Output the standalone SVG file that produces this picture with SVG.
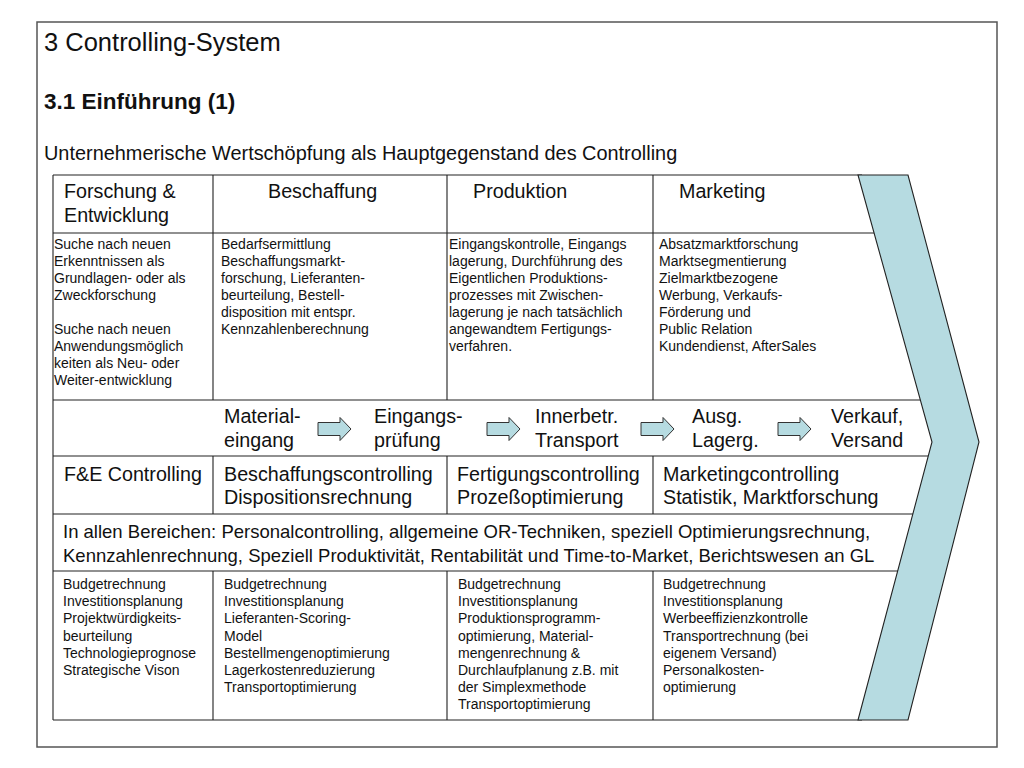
<svg xmlns="http://www.w3.org/2000/svg" width="1024" height="768" viewBox="0 0 1024 768">
<defs>
<style>
text{font-family:"Liberation Sans",Arial,sans-serif;fill:#111}
.t1{font-size:25.5px}
.t2{font-size:22.5px;font-weight:bold}
.t3{font-size:19.9px}
.big{font-size:19.7px}
.mid{font-size:18.5px}
.sm{font-size:14px}
.grid{stroke:#222;stroke-width:1.1;fill:none}
.frame{stroke:#555;stroke-width:1.5;fill:#fff}
.blk{fill:#b6dbe1;stroke:#333;stroke-width:1}
.chev{fill:#b6dbe1;stroke:#222;stroke-width:1.1}
</style>
<path id="arr" d="M0,-6.5 H22 V-11.5 L33,0 L22,11.5 V6.5 H0 Z"/>
</defs>
<rect class="frame" x="37" y="22" width="960" height="725"/>
<g id="titles">
<text class="t1" x="44" y="51">3 Controlling-System</text>
<text class="t2" x="44" y="109">3.1 Einführung (1)</text>
<text class="t3" x="44" y="160">Unternehmerische Wertschöpfung als Hauptgegenstand des Controlling</text>
</g>
<g id="table-grid">
<line class="grid" x1="53" y1="175" x2="862" y2="175"/>
<line class="grid" x1="53" y1="233" x2="878" y2="233"/>
<line class="grid" x1="53" y1="400" x2="924" y2="400"/>
<line class="grid" x1="53" y1="456" x2="932" y2="456"/>
<line class="grid" x1="53" y1="514" x2="916" y2="514"/>
<line class="grid" x1="53" y1="571" x2="901" y2="571" stroke-width="1.6"/>
<line class="grid" x1="53" y1="720" x2="862" y2="720"/>
<line class="grid" x1="53" y1="175" x2="53" y2="720"/>
<path class="grid" d="M213,175 V400 M213,456 V514 M213,571 V720 M447,175 V400 M447,456 V514 M447,571 V720 M653,175 V400 M653,456 V514 M653,571 V720"/>
</g>
<g id="chevron">
<polygon class="chev" points="858,175 908,175 979,442 908,720 858,720 932,442"/>
</g>
<g id="hdr-fe"><text class="big" x="64" y="198">Forschung &amp;<tspan x="64" dy="24">Entwicklung</tspan></text></g>
<g id="hdr-beschaffung"><text class="big" x="268" y="198">Beschaffung</text></g>
<g id="hdr-produktion"><text class="big" x="473" y="198">Produktion</text></g>
<g id="hdr-marketing"><text class="big" x="679" y="198">Marketing</text></g>
<g id="desc-fe"><text class="sm" x="54" y="249">Suche nach neuen<tspan x="54" dy="17">Erkenntnissen als</tspan><tspan x="54" dy="17">Grundlagen- oder als</tspan><tspan x="54" dy="17">Zweckforschung</tspan><tspan x="54" dy="34">Suche nach neuen</tspan><tspan x="54" dy="17">Anwendungsmöglich</tspan><tspan x="54" dy="17">keiten als Neu- oder</tspan><tspan x="54" dy="17">Weiter-entwicklung</tspan></text></g>
<g id="desc-beschaffung"><text class="sm" x="221" y="249">Bedarfsermittlung<tspan x="221" dy="17">Beschaffungsmarkt-</tspan><tspan x="221" dy="17">forschung, Lieferanten-</tspan><tspan x="221" dy="17">beurteilung, Bestell-</tspan><tspan x="221" dy="17">disposition mit entspr.</tspan><tspan x="221" dy="17">Kennzahlenberechnung</tspan></text></g>
<g id="desc-produktion"><text class="sm" x="449" y="249">Eingangskontrolle, Eingangs<tspan x="449" dy="17">lagerung, Durchführung des</tspan><tspan x="449" dy="17">Eigentlichen Produktions-</tspan><tspan x="449" dy="17">prozesses mit Zwischen-</tspan><tspan x="449" dy="17">lagerung je nach tatsächlich</tspan><tspan x="449" dy="17">angewandtem Fertigungs-</tspan><tspan x="449" dy="17">verfahren.</tspan></text></g>
<g id="desc-marketing"><text class="sm" x="659" y="249">Absatzmarktforschung<tspan x="659" dy="17">Marktsegmentierung</tspan><tspan x="659" dy="17">Zielmarktbezogene</tspan><tspan x="659" dy="17">Werbung, Verkaufs-</tspan><tspan x="659" dy="17">Förderung und</tspan><tspan x="659" dy="17">Public Relation</tspan><tspan x="659" dy="17">Kundendienst, AfterSales</tspan></text></g>
<g id="flow-materialeingang"><text class="big" x="224" y="423">Material-<tspan x="224" dy="24">eingang</tspan></text></g>
<g id="flow-eingangspruefung"><text class="big" x="374" y="423">Eingangs-<tspan x="374" dy="24">prüfung</tspan></text></g>
<g id="flow-transport"><text class="big" x="535" y="423">Innerbetr.<tspan x="535" dy="24">Transport</tspan></text></g>
<g id="flow-lager"><text class="big" x="692" y="423">Ausg.<tspan x="692" dy="24">Lagerg.</tspan></text></g>
<g id="flow-verkauf"><text class="big" x="831" y="423">Verkauf,<tspan x="831" dy="24">Versand</tspan></text></g>
<g id="connectors">
<use href="#arr" class="blk" x="318" y="429"/>
<use href="#arr" class="blk" x="487" y="429"/>
<use href="#arr" class="blk" x="641" y="429"/>
<use href="#arr" class="blk" x="778" y="429"/>
</g>
<g id="ctrl-fe"><text class="big" x="64" y="481">F&amp;E Controlling</text></g>
<g id="ctrl-beschaffung"><text class="big" x="224" y="481">Beschaffungscontrolling<tspan x="224" dy="23">Dispositionsrechnung</tspan></text></g>
<g id="ctrl-fertigung"><text class="big" x="457" y="481">Fertigungscontrolling<tspan x="457" dy="23">Prozeßoptimierung</tspan></text></g>
<g id="ctrl-marketing"><text class="big" x="663" y="481">Marketingcontrolling<tspan x="663" dy="23">Statistik, Marktforschung</tspan></text></g>
<g id="all-areas"><text class="mid" x="63" y="538">In allen Bereichen: Personalcontrolling, allgemeine OR-Techniken, speziell Optimierungsrechnung,<tspan x="63" dy="24">Kennzahlenrechnung, Speziell Produktivität, Rentabilität und Time-to-Market, Berichtswesen an GL</tspan></text></g>
<g id="tools-fe"><text class="sm" x="63" y="589">Budgetrechnung<tspan x="63" dy="17.2">Investitionsplanung</tspan><tspan x="63" dy="17.2">Projektwürdigkeits-</tspan><tspan x="63" dy="17.2">beurteilung</tspan><tspan x="63" dy="17.2">Technologieprognose</tspan><tspan x="63" dy="17.2">Strategische Vison</tspan></text></g>
<g id="tools-beschaffung"><text class="sm" x="224" y="589">Budgetrechnung<tspan x="224" dy="17.2">Investitionsplanung</tspan><tspan x="224" dy="17.2">Lieferanten-Scoring-</tspan><tspan x="224" dy="17.2">Model</tspan><tspan x="224" dy="17.2">Bestellmengenoptimierung</tspan><tspan x="224" dy="17.2">Lagerkostenreduzierung</tspan><tspan x="224" dy="17.2">Transportoptimierung</tspan></text></g>
<g id="tools-produktion"><text class="sm" x="458" y="589">Budgetrechnung<tspan x="458" dy="17.2">Investitionsplanung</tspan><tspan x="458" dy="17.2">Produktionsprogramm-</tspan><tspan x="458" dy="17.2">optimierung, Material-</tspan><tspan x="458" dy="17.2">mengenrechnung &amp;</tspan><tspan x="458" dy="17.2">Durchlaufplanung z.B. mit</tspan><tspan x="458" dy="17.2">der Simplexmethode</tspan><tspan x="458" dy="17.2">Transportoptimierung</tspan></text></g>
<g id="tools-marketing"><text class="sm" x="663" y="589">Budgetrechnung<tspan x="663" dy="17.2">Investitionsplanung</tspan><tspan x="663" dy="17.2">Werbeeffizienzkontrolle</tspan><tspan x="663" dy="17.2">Transportrechnung (bei</tspan><tspan x="663" dy="17.2">eigenem Versand)</tspan><tspan x="663" dy="17.2">Personalkosten-</tspan><tspan x="663" dy="17.2">optimierung</tspan></text></g>
</svg>
